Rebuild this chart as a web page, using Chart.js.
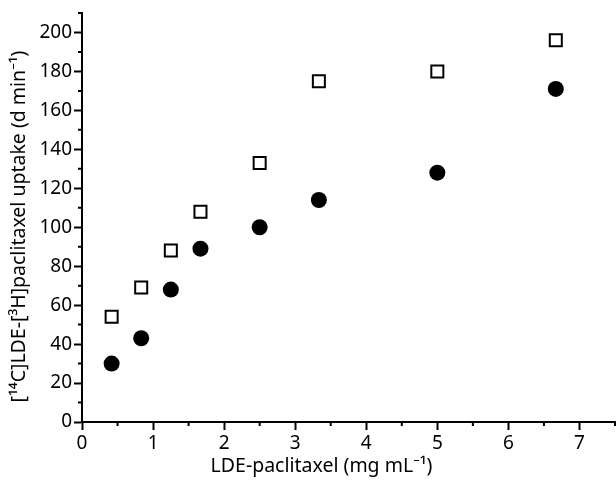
<!DOCTYPE html>
<html><head><meta charset="utf-8">
<script src="https://cdn.jsdelivr.net/npm/chart.js@4.4.1/dist/chart.umd.min.js"></script>
<style>html,body{margin:0;padding:0;background:#fff}#wrap{width:616px;height:483px;position:relative}</style>
</head><body><div id="wrap"><canvas id="c" width="616" height="483"></canvas></div>
<script>
// LDE-paclitaxel concentration (mg/mL)
const concentrations = [0.417, 0.833, 1.25, 1.667, 2.5, 3.333, 5, 6.667];
// Open squares
const uptakeSquares = [54, 69, 88, 108, 133, 175, 180, 196];
// Filled circles
const uptakeCircles = [30, 43, 68, 89, 100, 114, 128, 171];
// Minor tick positions
const xMinorTicks = [0.5, 1.5, 2.5, 3.5, 4.5, 5.5, 6.5, 7.5];
const yMinorTicks = [10, 30, 50, 70, 90, 110, 130, 150, 170, 190, 210];
const xTitle = 'LDE-paclitaxel (mg mL\u207B\u00B9)';
const yTitle = '[\u00B9\u2074C]LDE-[\u00B3H]paclitaxel uptake (d min\u207B\u00B9)';

const FONT = '"Noto Sans", "Open Sans", sans-serif';

// points near the plot edge should not shrink the plot area
Chart.ScatterController.prototype.getMaxOverflow = function () { return 0; };

const pts = (xs, ys) => xs.map((x, i) => ({x: x, y: ys[i]}));

const extras = {
  id: 'extras',
  afterDraw(chart) {
    const ctx = chart.ctx, xs = chart.scales.x, ys = chart.scales.y;
    ctx.save();
    ctx.strokeStyle = '#000';
    ctx.lineWidth = 2;
    ctx.beginPath();
    for (const v of xMinorTicks) {
      const px = xs.getPixelForValue(v);
      ctx.moveTo(px, xs.top); ctx.lineTo(px, xs.top + 4);
    }
    for (const v of yMinorTicks) {
      const py = ys.getPixelForValue(v);
      ctx.moveTo(ys.right, py); ctx.lineTo(ys.right - 4, py);
    }
    ctx.stroke();
    ctx.fillStyle = '#000';
    ctx.font = '19.5px ' + FONT;
    ctx.textAlign = 'center';
    ctx.textBaseline = 'middle';
    ctx.fillText(xTitle, (xs.left + xs.right) / 2 - 27, 466);
    ctx.translate(19, (ys.top + ys.bottom) / 2 + 9);
    ctx.rotate(-Math.PI / 2);
    ctx.fillText(yTitle, 0, 0);
    ctx.restore();
  }
};

new Chart(document.getElementById('c'), {
  type: 'scatter',
  data: {
    datasets: [
      {
        label: 'squares',
        data: pts(concentrations, uptakeSquares),
        pointStyle: 'rect',
        radius: 8.5,
        borderWidth: 2,
        borderColor: '#000',
        backgroundColor: '#fff'
      },
      {
        label: 'circles',
        data: pts(concentrations, uptakeCircles),
        pointStyle: 'circle',
        radius: 8,
        borderWidth: 0,
        borderColor: '#000',
        backgroundColor: '#000'
      }
    ]
  },
  options: {
    responsive: false,
    animation: false,
    devicePixelRatio: 1,
    layout: { padding: { top: 13, right: 1, left: 0, bottom: 0 } },
    plugins: { legend: { display: false }, tooltip: { enabled: false } },
    scales: {
      x: {
        type: 'linear',
        min: 0, max: 7.5,
        afterFit(s) { s.height = 61; s.paddingLeft = 0; s.paddingRight = 0; },
        ticks: { stepSize: 1, includeBounds: false, color: '#000', padding: 2,
                 font: { family: FONT, size: 19 } },
        grid: { drawOnChartArea: false, drawTicks: true, tickLength: 8, tickWidth: 2, tickColor: '#000' },
        border: { display: true, color: '#000', width: 2 },
        title: { display: false }
      },
      y: {
        type: 'linear',
        min: 0, max: 210,
        afterFit(s) { s.width = 82; s.paddingTop = 0; s.paddingBottom = 0; },
        ticks: { stepSize: 20, includeBounds: false, color: '#000', padding: 2,
                 font: { family: FONT, size: 19 } },
        grid: { drawOnChartArea: false, drawTicks: true, tickLength: 8, tickWidth: 2, tickColor: '#000' },
        border: { display: true, color: '#000', width: 2 },
        title: { display: false }
      }
    }
  },
  plugins: [extras]
});
</script></body></html>
